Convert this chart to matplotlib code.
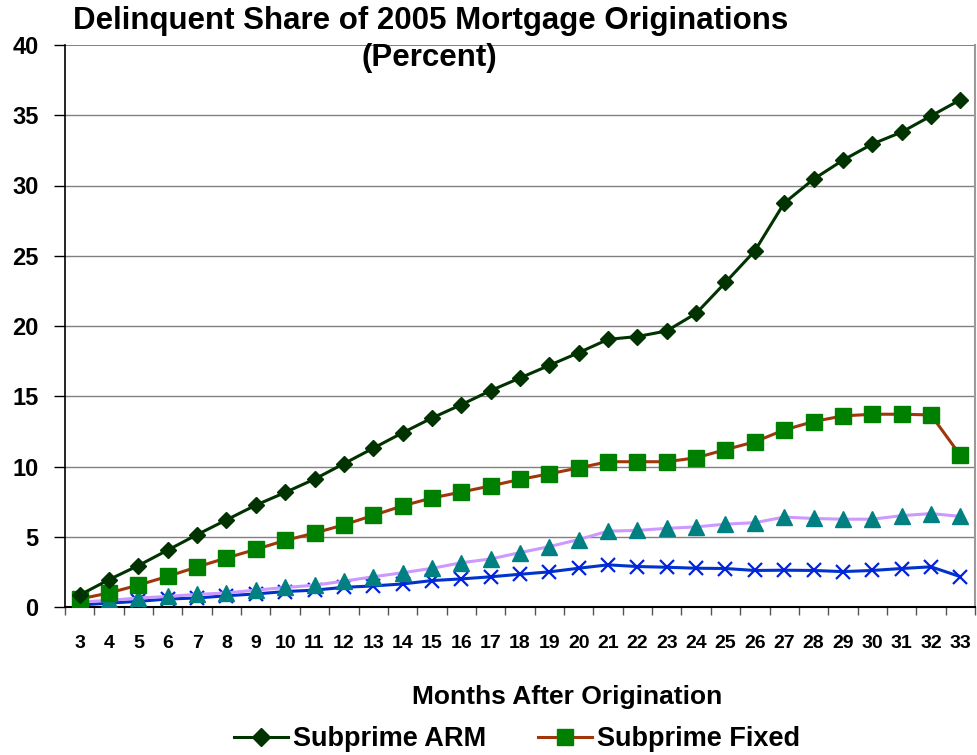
import matplotlib
matplotlib.use("Agg")
import matplotlib.pyplot as plt
from matplotlib.lines import Line2D
import numpy as np

months = list(range(3, 34))

subprime_arm = [0.85, 1.95, 2.95, 4.05, 5.15, 6.2, 7.25, 8.15, 9.1, 10.2, 11.3,
                12.4, 13.45, 14.4, 15.4, 16.3, 17.2, 18.1, 19.05, 19.25, 19.65,
                20.9, 23.1, 25.35, 28.75, 30.45, 31.8, 32.95, 33.8, 34.95, 36.1]

subprime_fixed = [0.57, 1.0, 1.56, 2.18, 2.85, 3.49, 4.1, 4.74, 5.26, 5.85, 6.52,
                  7.2, 7.76, 8.18, 8.62, 9.08, 9.48, 9.9, 10.34, 10.34, 10.34,
                  10.62, 11.2, 11.76, 12.6, 13.2, 13.6, 13.72, 13.72, 13.67, 10.8]

prime_arm = [0.35, 0.47, 0.64, 0.75, 0.9, 1.0, 1.2, 1.39, 1.55, 1.84, 2.15,
             2.44, 2.75, 3.15, 3.42, 3.87, 4.3, 4.8, 5.4, 5.45, 5.6,
             5.7, 5.9, 6.0, 6.4, 6.3, 6.25, 6.25, 6.5, 6.65, 6.45]

prime_fixed = [0.14, 0.28, 0.4, 0.57, 0.64, 0.8, 0.93, 1.1, 1.2, 1.4, 1.5,
               1.64, 1.88, 2.0, 2.15, 2.33, 2.5, 2.76, 3.0, 2.88, 2.83,
               2.76, 2.74, 2.6, 2.62, 2.6, 2.52, 2.6, 2.74, 2.86, 2.16]

plt.rcParams['font.family'] = ['Liberation Sans', 'DejaVu Sans']

fig = plt.figure(figsize=(9.77, 7.55), dpi=100)
ax = fig.add_axes([65 / 977, 1 - 607 / 755, 910 / 977, 562 / 755])

ax.plot(months, prime_fixed, color='#0033CC', lw=2.2, marker='x', ms=10,
        mew=1.6, mec='#0022DD', zorder=3)
ax.plot(months, prime_arm, color='#CC99FF', lw=2.2, marker='^', ms=11,
        mfc='#008080', mec='#008080', zorder=4)
ax.plot(months, subprime_fixed, color='#A0360A', lw=2.2, marker='s', ms=11,
        mfc='#008000', mec='#008000', zorder=5)
ax.plot(months, subprime_arm, color='#003300', lw=2.2, marker='D', ms=8.5,
        mfc='#003300', mec='#003300', zorder=6)

ax.set_xlim(2.5, 33.5)
ax.set_ylim(0, 40)
ax.set_yticks(range(0, 41, 5))
ax.set_yticklabels([str(v) for v in range(0, 41, 5)], fontsize=17, fontweight='bold')
ax.set_xticks(months)
ax.set_xticklabels([str(m) for m in months], fontsize=14, fontweight='bold')
ax.set_xticks(np.arange(2.5, 34, 1), minor=True)
ax.tick_params(axis='x', which='major', length=0, pad=20)
ax.tick_params(axis='x', which='minor', length=6, width=1, color='#555555', direction='out')
ax.tick_params(axis='y', length=8, width=1, direction='out', pad=11)

for v in range(5, 41, 5):
    ax.axhline(v, color='#808080', lw=1.4 if v == 40 else 1.0, zorder=1)

ax.spines['left'].set_color('black')
ax.spines['left'].set_linewidth(1.2)
ax.spines['bottom'].set_color('black')
ax.spines['bottom'].set_linewidth(1.5)
ax.spines['right'].set_color('#999999')
ax.spines['right'].set_linewidth(1.5)
ax.spines['top'].set_visible(False)

fig.text(431 / 977, 1 - 21 / 755, 'Delinquent Share of 2005 Mortgage Originations',
         ha='center', va='center', fontsize=22.5, fontweight='bold')
fig.text(429 / 977, 1 - 58 / 755, '(Percent)',
         ha='center', va='center', fontsize=22.5, fontweight='bold')

fig.text(567 / 977, 1 - 697 / 755, 'Months After Origination',
         ha='center', va='center', fontsize=19, fontweight='bold')

handles = [
    Line2D([], [], color='#003300', lw=2.2, marker='D', ms=9, mfc='#003300', mec='#003300'),
    Line2D([], [], color='#A0360A', lw=2.2, marker='s', ms=11, mfc='#008000', mec='#008000'),
]
fig.legend(handles, ['Subprime ARM', 'Subprime Fixed'], loc='center',
           bbox_to_anchor=(517 / 977, 1 - 739 / 755), ncol=2, frameon=False,
           prop={'size': 19.5, 'weight': 'bold'}, handlelength=2.0,
           handletextpad=0.2, columnspacing=1.9, borderpad=0)

fig.savefig('out.png', dpi=100)
